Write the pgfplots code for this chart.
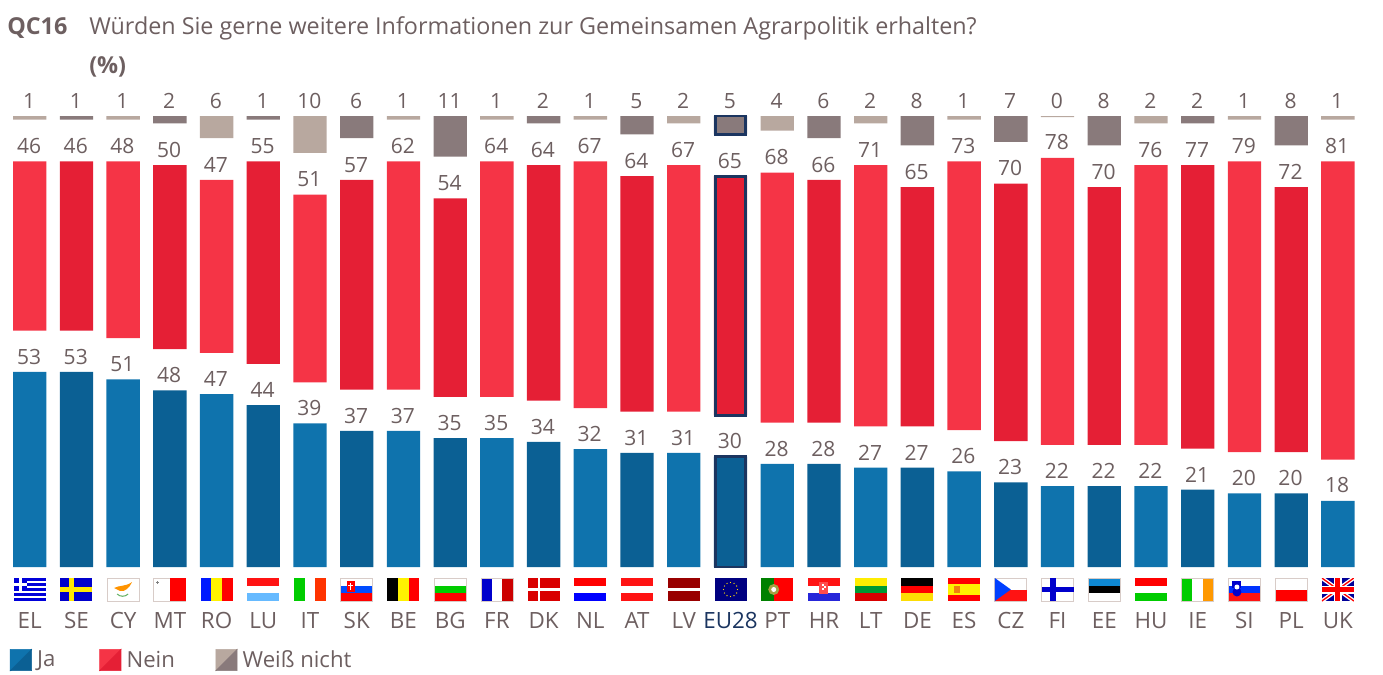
\documentclass[border=0pt]{standalone}
\usepackage{fontspec}
\setmainfont{Open Sans}
\usepackage{pgfplots}
\usepackage{pgfplotstable}
\pgfplotsset{compat=1.18}

\definecolor{jal}{HTML}{0F73AD}
\definecolor{jad}{HTML}{0B6094}
\definecolor{nel}{HTML}{F53446}
\definecolor{ned}{HTML}{E51F35}
\definecolor{wnl}{HTML}{B8A89F}
\definecolor{wnd}{HTML}{897A7B}
\definecolor{navy}{HTML}{1B3560}
\definecolor{txt}{HTML}{6D5F60}
\definecolor{flb}{HTML}{D8CCC8}

% dark = every second bar
\pgfplotstableread{
x  dark ja nein wn
0  0 53 46 1
1  1 53 46 1
2  0 51 48 1
3  1 48 50 2
4  0 47 47 6
5  1 44 55 1
6  0 39 51 10
7  1 37 57 6
8  0 37 62 1
9  1 35 54 11
10 0 35 64 1
11 1 34 64 2
12 0 32 67 1
13 1 31 64 5
14 0 31 67 2
15 1 30 65 5
16 0 28 68 4
17 1 28 66 6
18 0 27 71 2
19 1 27 65 8
20 0 26 73 1
21 1 23 70 7
22 0 22 78 0.3
23 1 22 70 8
24 0 22 76 2
25 1 21 77 2
26 0 20 79 1
27 1 20 72 8
28 0 18 81 1
}\data

\pgfplotsset{
  base/.style={
    at={(0pt,0pt)}, anchor=south west, scale only axis,
    width=1037.25pt, height=425.25pt,
    xmin=-0.6357, xmax=28.966, ymin=0, ymax=154.08,
    clip=false,
    axis line style={draw=none}, tick style={draw=none},
    ytick=\empty,
    /pgf/number format/assume math mode=true,
  },
  lab/.style={
    only marks, mark=none, forget plot, point meta=explicit,
    nodes near coords={\pgfmathprintnumber[fixed,precision=0]{\pgfplotspointmeta}},
    every node near coord/.append style={anchor=south, inner sep=0pt, yshift=5.5pt, xshift=-0.5pt,
      text=txt, font=\fontsize{15.75pt}{18pt}\selectfont},
  },
}

\newcommand\swatch[2]{\addlegendimage{legend image code/.code={
  \fill[#1] (0pt,-8pt) -- (0pt,8pt) -- (16pt,8pt) -- cycle;
  \fill[#2] (0pt,-8pt) -- (16pt,8pt) -- (16pt,-8pt) -- cycle;}}}

% flags, local box 32 x 23 px
\newcommand\fr[5]{\fill[#1] (#2,#3) rectangle (#4,#5);}
\newcommand\hthree[3]{\fr{#1}{0}{0}{32}{7.7}\fr{#2}{0}{7.7}{32}{15.3}\fr{#3}{0}{15.3}{32}{23}}
\newcommand\vthree[3]{\fr{#1}{0}{0}{10.7}{23}\fr{#2}{10.7}{0}{21.3}{23}\fr{#3}{21.3}{0}{32}{23}}
\newcommand\fb{\draw[flb,line width=0.6pt] (0,0) rectangle (32,23);}
\newcommand\flag[2]{\begin{scope}[shift={({29.7+46.72*#1-16},578)}]#2\end{scope}}

\begin{document}
\begin{tikzpicture}
\path[use as bounding box] (0pt,-80.25pt) rectangle (1037.25pt,425.25pt);

\begin{axis}[base, ybar stacked,
  xtick={0,...,28},
  xticklabels={EL,SE,CY,MT,RO,LU,IT,SK,BE,BG,FR,DK,NL,AT,LV,{\textcolor{navy}{EU28}},PT,HR,LT,DE,ES,CZ,FI,EE,HU,IE,SI,PL,UK},
  xticklabel style={text=txt, font=\fontsize{16.8pt}{20pt}\selectfont, yshift=-30.3pt},
  bar width=25pt,
  legend style={draw=none, fill=none, at={(0.0072,-0.1640)}, anchor=west,
    legend columns=-1, font=\fontsize{16.6pt}{20pt}\selectfont, text=txt,
    inner sep=0pt, outer sep=0pt, nodes={inner sep=0pt},
    /tikz/every odd column/.append style={column sep=4pt},
    /tikz/column 2/.style={column sep=33pt},
    /tikz/column 4/.style={column sep=30.5pt}},
]
% Ja
\addplot[fill=jal,draw=none,forget plot] table[x=x,y expr=\thisrow{ja}*(1-\thisrow{dark})] {\data};
\addplot[fill=jad,draw=none,forget plot] table[x=x,y expr=\thisrow{ja}*\thisrow{dark}] {\data};
% gap
\addplot[draw=none,fill=none,forget plot] table[x=x,y expr=11.2] {\data};
% Nein
\addplot[fill=nel,draw=none,forget plot] table[x=x,y expr=\thisrow{nein}*(1-\thisrow{dark})] {\data};
\addplot[fill=ned,draw=none,forget plot] table[x=x,y expr=\thisrow{nein}*\thisrow{dark}] {\data};
% gap up to the hanging bars
\addplot[draw=none,fill=none,forget plot] table[x=x,y expr=122.55-11.2-\thisrow{ja}-\thisrow{nein}-\thisrow{wn}] {\data};
% Weiss nicht
\addplot[fill=wnl,draw=none,forget plot] table[x=x,y expr=\thisrow{wn}*(1-\thisrow{dark})] {\data};
\addplot[fill=wnd,draw=none,forget plot] table[x=x,y expr=\thisrow{wn}*\thisrow{dark}] {\data};

\swatch{jal}{jad}\addlegendentry{Ja}
\swatch{nel}{ned}\addlegendentry{Nein}
\swatch{wnl}{wnd}\addlegendentry{Weiß nicht}
\end{axis}

% EU28 outline
\begin{axis}[base, ybar stacked, xtick=\empty, bar width=22.9pt]
\addplot[draw=navy,line width=2pt,fill=none] coordinates {(15,30)};
\addplot[draw=none,fill=none] coordinates {(15,11.2)};
\addplot[draw=navy,line width=2pt,fill=none] coordinates {(15,65)};
\addplot[draw=none,fill=none] coordinates {(15,11.35)};
\addplot[draw=navy,line width=2pt,fill=none] coordinates {(15,5)};
\end{axis}

% value labels
\begin{axis}[base, xtick=\empty]
\addplot[lab] table[x=x,y=ja,meta=ja] {\data};
\addplot[lab] table[x=x,y expr=\thisrow{ja}+11.2+\thisrow{nein},meta=nein] {\data};
\addplot[lab] table[x=x,y expr=122.55,meta=wn] {\data};
\end{axis}

\begin{scope}[shift={(0pt,425.25pt)},x=0.75pt,y=-0.75pt]
\node[anchor=base west,inner sep=0pt,text=txt,font=\fontsize{17.5pt}{20pt}\selectfont\bfseries] at (7,35) {QC16};
\node[anchor=base west,inner sep=0pt,text=txt,font=\fontsize{17.5pt}{20pt}\selectfont] at (89,35) {Würden Sie gerne weitere Informationen zur Gemeinsamen Agrarpolitik erhalten?};
\node[anchor=base west,inner sep=0pt,text=txt,font=\fontsize{17.5pt}{20pt}\selectfont\bfseries] at (89,74) {(\%)};

\flag{0}{\fr{blue!85!black}{0}{0}{32}{23}
  \foreach \s in {1,3,5,7}{\fr{white}{0}{\s*2.55}{32}{\s*2.55+2.55}}
  \fr{blue!85!black}{0}{0}{13}{12.8}\fr{white}{5}{0}{8}{12.8}\fr{white}{0}{5}{13}{8}}
\flag{1}{\fr{blue!80!black}{0}{0}{32}{23}\fr{yellow!90!orange}{9}{0}{13.5}{23}\fr{yellow!90!orange}{0}{9.3}{32}{13.7}}
\flag{2}{\fb\fill[orange!85!yellow] (7,10) .. controls (12,7) and (18,9) .. (25,4) .. controls (22,10) and (18,14) .. (13,13) -- cycle;
  \draw[green!50!black!60,line width=0.8pt] (10,16) .. controls (13,19) and (18,19) .. (21,16);}
\flag{3}{\fb\fr{red}{16}{0}{32}{23}\fr{gray}{2.5}{3.5}{5.5}{4.5}\fr{gray}{3.5}{2.5}{4.5}{5.5}}
\flag{4}{\vthree{blue!90!cyan}{yellow}{red}}
\flag{5}{\hthree{red!90!pink}{white}{blue!45!cyan!60}}
\flag{6}{\vthree{green!80!black}{white}{red!80!yellow}}
\flag{7}{\hthree{white}{blue!70!cyan}{red}\fr{red}{6}{3}{14}{14}\fr{white}{9.3}{4.5}{10.7}{12}\fr{white}{7.5}{6.5}{12.5}{8}\fb}
\flag{8}{\vthree{black}{yellow}{red}}
\flag{9}{\hthree{white}{green!80!black}{red}\fb}
\flag{10}{\vthree{blue!80!black}{white}{red!80!black}\fb}
\flag{11}{\fr{red!85!black}{0}{0}{32}{23}\fr{white}{10}{0}{12.5}{23}\fr{white}{0}{10}{32}{13}}
\flag{12}{\hthree{red}{white}{blue}}
\flag{13}{\hthree{red!90!pink}{white}{red!90!pink}}
\flag{14}{\fr{red!60!black}{0}{0}{32}{23}\fr{white}{0}{9.7}{32}{13.3}}
\flag{15}{\fr{blue!50!black}{0}{0}{32}{23}
  \foreach \a in {0,30,...,330}{\fill[yellow!80!orange] ({16+7*cos(\a)},{11.5+7*sin(\a)}) circle (0.7);}}
\flag{16}{\fr{green!50!black}{0}{0}{12.5}{23}\fr{red}{12.5}{0}{32}{23}\fill[yellow!60!black] (12.5,11.5) circle (5.5);\fill[white] (12.5,11.5) circle (2.5);}
\flag{17}{\hthree{red!90!pink}{white}{blue!70!gray}\fr{red!70}{11.5}{4}{20.5}{16}\fr{white}{14}{6}{16}{8}\fr{white}{16}{8}{18}{10}\fr{white}{14}{10}{16}{12}}
\flag{18}{\hthree{yellow!95!orange}{green!50!black!80!cyan}{red!85!black}}
\flag{19}{\hthree{black}{red}{yellow!80!orange}}
\flag{20}{\fr{red}{0}{0}{32}{5.7}\fr{yellow}{0}{5.7}{32}{17.3}\fr{red}{0}{17.3}{32}{23}\fr{orange!80!brown}{6}{7.5}{12}{15}}
\flag{21}{\fb\fr{red!90!pink}{0}{11.5}{32}{23}\fill[blue!75!cyan] (0,0) -- (16,11.5) -- (0,23) -- cycle;}
\flag{22}{\fb\fr{blue!80!black}{8.5}{0}{14}{23}\fr{blue!80!black}{0}{8.8}{32}{14.2}}
\flag{23}{\hthree{cyan!70!blue}{black}{white}\fb}
\flag{24}{\hthree{red}{white}{green!80!black}}
\flag{25}{\vthree{green!80!black}{white}{orange!80!yellow}\fb}
\flag{26}{\hthree{white}{blue!80!cyan}{red!90!pink}\fill[blue!80!black] (4,3) rectangle (13,10);\fill[blue!80!black] (8.5,14) circle (4.5);\fill[white] (8.5,9) circle (2.5);\fb}
\flag{27}{\fr{red}{0}{11.5}{32}{23}\fb}
\flag{28}{\fr{blue!60!black}{0}{0}{32}{23}
  \begin{scope}\clip (0,0) rectangle (32,23);
  \draw[white,line width=3pt] (0,0) -- (32,23) (0,23) -- (32,0);
  \draw[red,line width=1pt] (0,0) -- (32,23) (0,23) -- (32,0);
  \fr{white}{0}{7.5}{32}{15.5}\fr{white}{12}{0}{20}{23}
  \fr{red}{0}{9}{32}{14}\fr{red}{13.5}{0}{18.5}{23}
  \end{scope}}
\end{scope}
\end{tikzpicture}
\end{document}
